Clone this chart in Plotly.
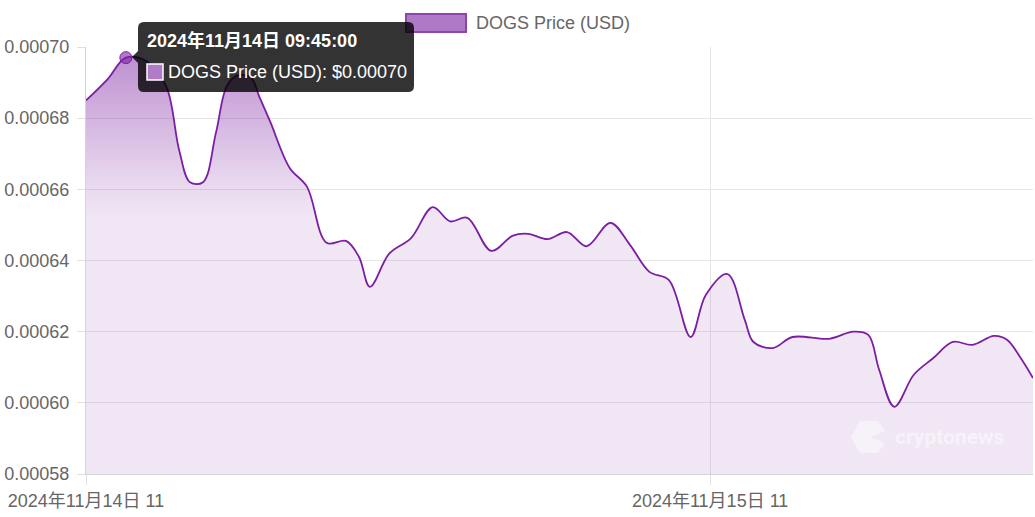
import plotly.graph_objects as go

# ---- data ----
times = [
    "2024-11-14 11:00", "2024-11-14 11:50", "2024-11-14 12:32", "2024-11-14 13:20",
    "2024-11-14 14:05", "2024-11-14 14:35", "2024-11-14 15:00", "2024-11-14 15:30",
    "2024-11-14 16:00", "2024-11-14 16:25", "2024-11-14 16:50", "2024-11-14 17:20",
    "2024-11-14 17:40", "2024-11-14 18:05", "2024-11-14 18:50", "2024-11-14 19:30",
    "2024-11-14 20:15", "2024-11-14 21:00", "2024-11-14 21:30", "2024-11-14 21:55",
    "2024-11-14 22:40", "2024-11-14 23:30", "2024-11-15 00:20", "2024-11-15 01:00",
    "2024-11-15 01:40", "2024-11-15 02:35", "2024-11-15 03:25", "2024-11-15 04:00",
    "2024-11-15 04:45", "2024-11-15 05:30", "2024-11-15 06:15", "2024-11-15 07:10",
    "2024-11-15 07:55", "2024-11-15 08:40", "2024-11-15 09:25", "2024-11-15 10:15",
    "2024-11-15 10:50", "2024-11-15 11:40", "2024-11-15 12:20", "2024-11-15 12:40",
    "2024-11-15 13:25", "2024-11-15 14:10", "2024-11-15 15:35", "2024-11-15 16:30",
    "2024-11-15 17:05", "2024-11-15 17:30", "2024-11-15 18:05", "2024-11-15 18:50",
    "2024-11-15 19:35", "2024-11-15 20:20", "2024-11-15 21:05", "2024-11-15 21:55",
    "2024-11-15 22:25", "2024-11-15 22:55", "2024-11-15 23:25",
]
prices = [
    0.000685, 0.000691, 0.000697, 0.000696,
    0.000689, 0.000671, 0.000662, 0.000662,
    0.000676, 0.000689, 0.000692, 0.0006915,
    0.000686, 0.000679, 0.000666, 0.0006607,
    0.000645, 0.0006455, 0.000641, 0.0006326,
    0.000642, 0.0006463, 0.000655, 0.000651,
    0.000652, 0.0006427, 0.000647, 0.0006475,
    0.000646, 0.000648, 0.000644, 0.0006506,
    0.0006444, 0.0006368, 0.0006345, 0.0006185,
    0.0006303, 0.0006362, 0.0006233, 0.0006171,
    0.0006154, 0.0006185, 0.000618, 0.00062,
    0.0006191, 0.0006093, 0.0005989, 0.0006079,
    0.0006126, 0.0006171, 0.0006163, 0.0006188,
    0.0006177, 0.0006129, 0.000607,
]
series_name = "DOGS Price (USD)"
y_ticks = [0.00058, 0.00060, 0.00062, 0.00064, 0.00066, 0.00068, 0.00070]
x_tick_vals = ["2024-11-14 11:00", "2024-11-15 11:00"]
x_tick_text = ["2024年11月14日 11", "2024年11月15日 11"]
hover_index = 2
tooltip_title = "2024年11月14日 09:45:00"
tooltip_body = "DOGS Price (USD): $0.00070"

FONT = "Liberation Sans, Arial, Noto Sans CJK SC, sans-serif"
LINE = "#7b1fa2"
FS = 18

fig = go.Figure()
fig.add_trace(go.Scatter(
    x=times, y=prices, mode="lines", name=series_name,
    line=dict(color=LINE, width=1.8, shape="spline", smoothing=1.0),
    fill="tozeroy",
    fillgradient=dict(
        type="vertical",
        start=0.00058, stop=0.00070,
        colorscale=[
            [0.0, "rgba(123,31,162,0.11)"],
            [0.6, "rgba(123,31,162,0.11)"],
            [0.69, "rgba(123,31,162,0.18)"],
            [0.83, "rgba(123,31,162,0.33)"],
            [1.0, "rgba(123,31,162,0.52)"],
        ],
    ),
    showlegend=False, hoverinfo="skip",
))
fig.add_trace(go.Scatter(
    x=[times[hover_index]], y=[prices[hover_index]], mode="markers",
    marker=dict(size=12, color="rgba(123,31,162,0.6)", line=dict(color=LINE, width=1)),
    showlegend=False, hoverinfo="skip",
))

W, H = 1035, 517
L, R, T, B = 86, 2, 47, 43
pw, ph = W - L - R, H - T - B


def px(x):
    return (x - L) / pw


def py(y):
    return (H - B - y) / ph


shapes = []
# legend swatch
shapes.append(dict(type="rect", xref="paper", yref="paper",
                   x0=px(406), x1=px(466), y0=py(32), y1=py(14),
                   fillcolor="rgba(123,31,162,0.6)", line=dict(color="rgb(142,68,173)", width=2)))
# tooltip box with rounded corners and caret
x0, x1, y0, y1, r = 138, 414, 22, 92, 6
cy = (y0 + y1) / 2
path = (
    f"M {px(x0 + r)},{py(y0)} L {px(x1 - r)},{py(y0)} "
    f"Q {px(x1)},{py(y0)} {px(x1)},{py(y0 + r)} L {px(x1)},{py(y1 - r)} "
    f"Q {px(x1)},{py(y1)} {px(x1 - r)},{py(y1)} L {px(x0 + r)},{py(y1)} "
    f"Q {px(x0)},{py(y1)} {px(x0)},{py(y1 - r)} L {px(x0)},{py(cy + 6)} "
    f"L {px(x0 - 6)},{py(cy)} L {px(x0)},{py(cy - 6)} L {px(x0)},{py(y0 + r)} "
    f"Q {px(x0)},{py(y0)} {px(x0 + r)},{py(y0)} Z"
)
shapes.append(dict(type="path", xref="paper", yref="paper", path=path,
                   fillcolor="rgba(0,0,0,0.8)", line=dict(width=0), layer="above"))
# tooltip colour box
shapes.append(dict(type="rect", xref="paper", yref="paper",
                   x0=px(147), x1=px(163), y0=py(80), y1=py(64),
                   fillcolor="rgba(176,124,198,1)", line=dict(color="white", width=1.5), layer="above"))
# watermark logo (simple hexagon-like mark)
lx, ly = 868, 437
logo = (f"M {px(lx - 17)},{py(ly)} L {px(lx - 8)},{py(ly - 16)} L {px(lx + 10)},{py(ly - 16)} "
        f"L {px(lx + 17)},{py(ly - 6)} L {px(lx + 2)},{py(ly)} L {px(lx + 17)},{py(ly + 6)} "
        f"L {px(lx + 10)},{py(ly + 16)} L {px(lx - 8)},{py(ly + 16)} Z")
shapes.append(dict(type="path", xref="paper", yref="paper", path=logo,
                   fillcolor="rgba(255,255,255,0.45)", line=dict(width=0), layer="above"))

annotations = [
    dict(xref="paper", yref="paper", x=px(474), y=py(23), xanchor="left", yanchor="middle",
         text=series_name, showarrow=False, font=dict(family=FONT, size=FS, color="#666")),
    dict(xref="paper", yref="paper", x=px(145), y=py(41), xanchor="left", yanchor="middle",
         text="<b>" + tooltip_title + "</b>", showarrow=False,
         font=dict(family=FONT, size=FS, color="white")),
    dict(xref="paper", yref="paper", x=px(166), y=py(72), xanchor="left", yanchor="middle",
         text=tooltip_body, showarrow=False, font=dict(family=FONT, size=FS, color="white")),
    dict(xref="paper", yref="paper", x=px(893), y=py(437), xanchor="left", yanchor="middle",
         text="<b>cryptonews</b>", showarrow=False,
         font=dict(family="Roboto, Liberation Sans, sans-serif", size=21, color="rgba(255,255,255,0.5)")),
]

fig.update_layout(
    width=W, height=H,
    margin=dict(l=L, r=R, t=T, b=B, pad=0),
    paper_bgcolor="white", plot_bgcolor="white",
    font=dict(family=FONT, size=FS, color="#666"),
    showlegend=False,
    shapes=shapes, annotations=annotations,
    xaxis=dict(
        type="date", range=["2024-11-14 11:00", "2024-11-15 23:25"],
        tickmode="array", tickvals=x_tick_vals, ticktext=x_tick_text,
        showgrid=True, gridcolor="#e6e6e6", gridwidth=1,
        ticks="outside", ticklen=10, tickcolor="#e0e0e0", tickwidth=1,
        showline=True, linecolor="#d4d4d4", linewidth=1,
        tickfont=dict(family=FONT, size=FS, color="#666"),
        zeroline=False, fixedrange=True,
    ),
    yaxis=dict(
        range=[0.00058, 0.00070],
        tickmode="array", tickvals=y_ticks, tickformat=".5f",
        showgrid=True, gridcolor="#e6e6e6", gridwidth=1,
        ticks="outside", ticklen=8, tickcolor="#e0e0e0", tickwidth=1,
        showline=True, linecolor="#d4d4d4", linewidth=1,
        tickfont=dict(family=FONT, size=FS, color="#666"),
        ticklabelstandoff=4,
        zeroline=False, fixedrange=True,
    ),
)

fig.write_html(
    "out.html",
    config={"displayModeBar": False, "staticPlot": True},
    post_script="document.body.style.margin='0';document.body.style.overflow='hidden';",
)
